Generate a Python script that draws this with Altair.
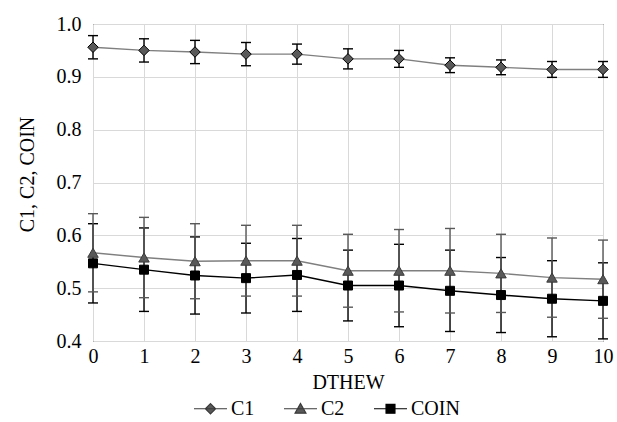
import altair as alt
import pandas as pd

# ---- data ----
dthew = [0, 1, 2, 3, 4, 5, 6, 7, 8, 9, 10]
c1 = [0.956, 0.950, 0.947, 0.943, 0.943, 0.934, 0.934, 0.922, 0.918, 0.914, 0.914]
c1_err = [0.022, 0.022, 0.022, 0.022, 0.019, 0.019, 0.016, 0.014, 0.014, 0.015, 0.015]
c2 = [0.567, 0.558, 0.551, 0.552, 0.552, 0.533, 0.533, 0.533, 0.528, 0.520, 0.517]
c2_err = [0.074, 0.076, 0.071, 0.067, 0.067, 0.069, 0.078, 0.080, 0.074, 0.075, 0.074]
coin = [0.547, 0.535, 0.524, 0.519, 0.525, 0.505, 0.505, 0.495, 0.487, 0.480, 0.476]
coin_err = [0.075, 0.079, 0.073, 0.066, 0.069, 0.067, 0.078, 0.077, 0.071, 0.072, 0.072]
series_names = ["C1", "C2", "COIN"]
y_ticks = [0.4, 0.5, 0.6, 0.7, 0.8, 0.9, 1.0]

rows = []
for name, vals, errs in [("C1", c1, c1_err), ("C2", c2, c2_err), ("COIN", coin, coin_err)]:
    for x, v, e in zip(dthew, vals, errs):
        rows.append({"DTHEW": x, "series": name, "value": v, "lo": v - e, "hi": v + e})
df = pd.DataFrame(rows)

FONT = "Liberation Serif"
FS = 20

x_scale = alt.Scale(domain=[0, 10], nice=False)
y_scale = alt.Scale(domain=[0.4, 1.0], nice=False, zero=False)
x_axis = alt.Axis(values=dthew, title="DTHEW", grid=True, ticks=False, domain=False,
                  labelPadding=5, titlePadding=6, labelFlush=False,
                  labelFont=FONT, labelFontSize=FS, labelColor="black",
                  titleFont=FONT, titleFontSize=FS, titleColor="black", titleFontWeight="normal")
y_axis = alt.Axis(values=y_ticks, format=".1f", title="C1, C2, COIN", grid=True, ticks=False,
                  domain=False, labelPadding=12, titleX=-66, titleY=150, titleBaseline="middle",
                  labelFont=FONT, labelFontSize=FS, labelColor="black",
                  titleFont=FONT, titleFontSize=FS, titleColor="black", titleFontWeight="normal")


def X():
    return alt.X("DTHEW:Q", scale=x_scale, axis=x_axis)


def Y(field):
    return alt.Y(f"{field}:Q", scale=y_scale, axis=y_axis)


def series_layers(name, line_color, bar_color, shape, fill, stroke, size):
    base = alt.Chart(df).transform_filter(alt.datum.series == name)
    rule = base.mark_rule(color=bar_color, strokeWidth=1.4).encode(x=X(), y=Y("lo"), y2="hi:Q")
    cap_lo = base.mark_tick(orient="horizontal", size=10, thickness=1.4, color=bar_color, opacity=1).encode(x=X(), y=Y("lo"))
    cap_hi = base.mark_tick(orient="horizontal", size=10, thickness=1.4, color=bar_color, opacity=1).encode(x=X(), y=Y("hi"))
    line = base.mark_line(color=line_color, strokeWidth=1.4).encode(x=X(), y=Y("value"))
    pts = base.mark_point(shape=shape, filled=True, fill=fill, stroke=stroke, strokeWidth=1,
                          size=size, opacity=1).encode(x=X(), y=Y("value"))
    return [rule, cap_lo, cap_hi], [line], [pts]


b_coin, l_coin, p_coin = series_layers("COIN", "black", "black", "square", "black", "black", 81)
b_c2, l_c2, p_c2 = series_layers("C2", "#7f7f7f", "#595959", "triangle-up", "#595959", "#3a3a3a", 110)
b_c1, l_c1, p_c1 = series_layers("C1", "#7f7f7f", "black", "diamond", "#595959", "black", 110)

# legend-only layer (no visible data), symbols = line through marker
path_c1 = "M-1,0L1,0M0,-0.31L0.31,0L0,0.31L-0.31,0Z"
path_c2 = "M-1,0L1,0M0,-0.32L0.33,0.27L-0.33,0.27Z"
path_coin = "M-1,0L1,0M-0.27,-0.27L0.27,-0.27L0.27,0.27L-0.27,0.27Z"
leg = alt.Legend(title=None, orient="none", direction="horizontal", legendX=100, legendY=367,
                 symbolSize=1089, symbolStrokeWidth=1.2, labelFont=FONT, labelFontSize=FS,
                 labelColor="black", columnPadding=26, labelOffset=3)
legend_layer = alt.Chart(df).transform_filter("false").mark_point(filled=True, opacity=1, strokeWidth=1.2).encode(
    x=X(), y=Y("value"),
    shape=alt.Shape("series:N", scale=alt.Scale(domain=series_names, range=[path_c1, path_c2, path_coin]), legend=leg),
    fill=alt.Fill("series:N", scale=alt.Scale(domain=series_names, range=["#595959", "#595959", "black"]), legend=leg),
    stroke=alt.Stroke("series:N", scale=alt.Scale(domain=series_names, range=["#3a3a3a", "#3a3a3a", "black"]), legend=leg),
)

chart = alt.layer(
    *b_coin, *b_c2, *b_c1, *l_coin, *l_c2, *l_c1, *p_coin, *p_c2, *p_c1, legend_layer
).properties(
    width=510, height=317,
    background="white",
    autosize=alt.AutoSizeParams(type="none"),
    padding={"left": 93, "top": 24, "right": 14, "bottom": 81},
).configure_view(
    stroke="black", strokeWidth=1
).configure_axis(
    gridColor="#d9d9d9", gridWidth=1
)

chart.save("out.html", embed_options={"renderer": "svg", "actions": False})
